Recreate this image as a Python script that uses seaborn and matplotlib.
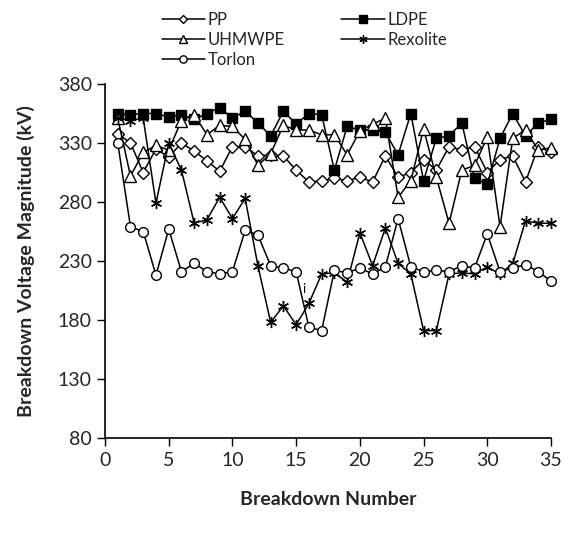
import matplotlib
matplotlib.use("Agg")
import matplotlib.pyplot as plt
import seaborn as sns
import pandas as pd
import numpy as np

breakdown = list(range(1, 36))

pp = [338, 330, 305, 325, 318, 330, 323, 315, 306, 327, 327, 319, 320, 319, 307, 297, 298,
      300, 298, 301, 297, 319, 301, 305, 316, 307, 327, 324, 327, 305, 316, 319, 297, 327, 322]
ldpe = [355, 354, 355, 355, 352, 354, 350, 355, 360, 351, 357, 347, 336, 357, 346, 355, 354,
        307, 344, 341, 341, 339, 320, 355, 298, 334, 336, 347, 300, 295, 334, 355, 336, 347, 350]
uhmwpe = [351, 302, 322, 328, 324, 349, 354, 337, 345, 344, 333, 311, 321, 345, 341, 341, 337,
          337, 320, 340, 346, 351, 284, 298, 342, 301, 262, 307, 311, 335, 259, 334, 341, 324, 326]
rexolite = [351, 349, 351, 279, 330, 307, 262, 265, 284, 266, 283, 226, 178, 192, 176, 194, 219,
            220, 212, 254, 226, 258, 228, 219, 171, 171, 219, 220, 219, 225, 219, 228, 264, 262, 262]
torlon = [330, 259, 255, 218, 257, 221, 228, 221, 219, 221, 256, 252, 226, 224, 221, 174, 171,
          222, 220, 224, 219, 225, 266, 225, 221, 222, 221, 226, 224, 253, 221, 224, 227, 221, 213]

series_names = ["PP", "LDPE", "UHMWPE", "Rexolite", "Torlon"]
series_vals = [pp, ldpe, uhmwpe, rexolite, torlon]

x_ticks = [0, 5, 10, 15, 20, 25, 30, 35]
y_ticks = [80, 130, 180, 230, 280, 330, 380]

sns.set_style("ticks")
plt.rcParams["font.family"] = ["Lato", "DejaVu Sans"]

fig = plt.figure(figsize=(5.64, 5.38), dpi=100)
ax = fig.add_axes([105 / 564, 100 / 538, (551 - 105) / 564, (438 - 84) / 538])

styles = {
    "PP": dict(marker="D", markersize=6, markerfacecolor="white"),
    "LDPE": dict(marker="s", markersize=7, markerfacecolor="black"),
    "UHMWPE": dict(marker="^", markersize=8, markerfacecolor="white"),
    "Rexolite": dict(marker=(6, 2, 0), markersize=8, markerfacecolor="black"),
    "Torlon": dict(marker="o", markersize=7, markerfacecolor="white"),
}

for name, vals in zip(series_names, series_vals):
    df = pd.DataFrame({"Breakdown Number": breakdown, "kV": vals})
    sns.lineplot(data=df, x="Breakdown Number", y="kV", ax=ax, color="black",
                 linewidth=1.1, markeredgecolor="black", markeredgewidth=1.0,
                 clip_on=False, label=name, **styles[name])

ax.text(15.45, 203, "i", fontsize=9, color="black")

ax.set_xlim(0, 35)
ax.set_ylim(80, 380)
ax.set_xticks(x_ticks)
ax.set_yticks(y_ticks)
ax.tick_params(axis="both", labelsize=14, length=6, width=1.0, direction="out", color="black")
ax.tick_params(axis="x", pad=4)
for s in ["top", "right"]:
    ax.spines[s].set_visible(False)
for s in ["left", "bottom"]:
    ax.spines[s].set_color("black")
    ax.spines[s].set_linewidth(1.2)

ax.set_xlabel("Breakdown Number", fontsize=14, fontweight="bold", labelpad=16)
ax.set_ylabel("Breakdown Voltage Magnitude (kV)", fontsize=14, fontweight="bold", labelpad=16)

h, l = ax.get_legend_handles_labels()
hd = dict(zip(l, h))
order = ["PP", "UHMWPE", "Torlon", "LDPE", "Rexolite"]
ax.get_legend().remove()
fig.legend([hd[k] for k in order], order, ncol=2, loc="upper left",
           bbox_to_anchor=(150 / 564, 1.0), frameon=False, fontsize=12,
           handlelength=2.6, handletextpad=0.15, columnspacing=3.4,
           labelspacing=0.25, borderpad=0.2, markerscale=0.75)

fig.savefig("out.png", dpi=100)
